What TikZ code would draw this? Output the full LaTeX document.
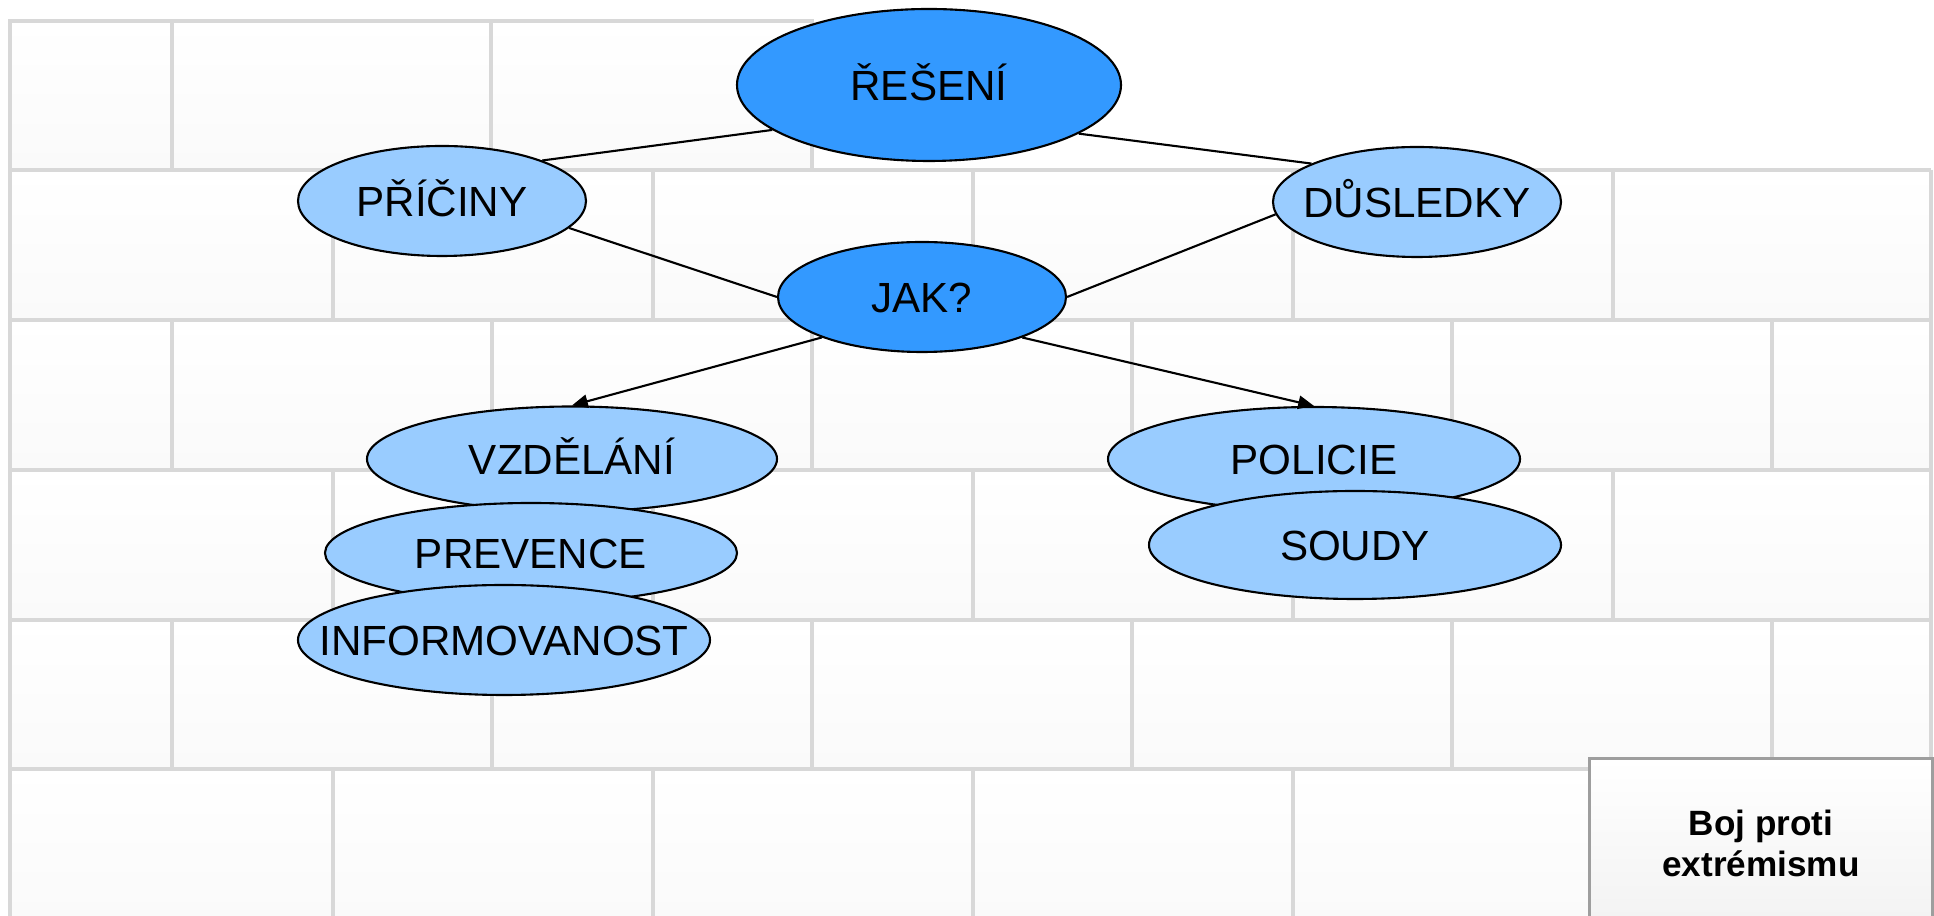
\documentclass[tikz,border=0pt]{standalone}
\usepackage{fontspec}
\setmainfont{Liberation Sans}
\usetikzlibrary{shapes.geometric,arrows.meta}
\definecolor{darkblue}{HTML}{3399FF}
\definecolor{lightblue}{HTML}{99CCFF}
\definecolor{mortar}{HTML}{D8D8D8}
\newcommand{\bubbletext}[1]{\makebox[0pt]{#1}}
\tikzset{
	bubble/.style={ellipse, draw=black, line width=0.6pt, inner sep=0pt, text height=8.6pt, text depth=0pt, font=\fontsize{12}{14}\selectfont},
	darkbubble/.style={bubble, fill=darkblue},
	lightbubble/.style={bubble, fill=lightblue},
	link/.style={line width=0.6pt},
	mortarline/.style={draw=mortar, line width=0.035cm},
}

\begin{document}
\begin{tikzpicture}[x=1cm, y=-1cm, >={Triangle[length=4.5pt,width=3.8pt]}]
			%%%%% WALL %%%%%
			
			\useasboundingbox[fill=white] (0,0) rectangle (19.34,9.16);
			\shade[top color=white, bottom color=black!2] (0.10,0.21) rectangle (8.12,1.70);
			\foreach \y in {1.70,3.20,4.70,6.20,7.69}
				\shade[top color=white, bottom color=black!2] (0.10,\y) rectangle (19.31,\y+1.5);
			
			\draw[mortarline] (0.10,9.16) -- (0.10,0.21) -- (8.12,0.21) -- (8.12,1.70);
			\draw[mortarline] (19.31,1.70) -- (19.31,9.16);
			\foreach \y in {1.70,3.20,4.70,6.20,7.69}
				\draw[mortarline] (0.10,\y) -- (19.31,\y);
			\foreach \x in {1.72,4.91}
				\draw[mortarline] (\x,0.21) -- (\x,1.70);
			\foreach \y in {3.20,6.20}
				\foreach \x in {1.72,4.92,8.12,11.32,14.52,17.72}
					\draw[mortarline] (\x,\y) -- (\x,\y+1.5);
			\foreach \y in {1.70,4.70,7.69}
				\foreach \x in {3.33,6.53,9.73,12.93,16.13}
					\draw[mortarline] (\x,\y) -- (\x,\y+1.5);
			
			%%%%% BUBBLES %%%%%
			
			\node[darkbubble, minimum width=3.84cm, minimum height=1.52cm] (reseni) at (9.29,0.85) {\bubbletext{ŘEŠENÍ}};
			\node[lightbubble, minimum width=2.88cm, minimum height=1.10cm] (priciny) at (4.42,2.01) {\bubbletext{PŘÍČINY}};
			\node[lightbubble, minimum width=2.88cm, minimum height=1.10cm] (dusledky) at (14.17,2.02) {\bubbletext{DŮSLEDKY}};
			\node[darkbubble, minimum width=2.88cm, minimum height=1.10cm] (jak) at (9.22,2.97) {\bubbletext{JAK?}};
			
			\node[lightbubble, minimum width=4.10cm, minimum height=1.05cm] (vzdelani) at (5.72,4.59) {\bubbletext{VZDĚLÁNÍ}};
			\node[lightbubble, minimum width=4.12cm, minimum height=1.00cm] (prevence) at (5.31,5.53) {\bubbletext{PREVENCE}};
			\node[lightbubble, minimum width=4.12cm, minimum height=1.10cm] (informovanost) at (5.04,6.40) {\bubbletext{INFORMOVANOST}};
			
			\node[lightbubble, minimum width=4.12cm, minimum height=1.04cm] (policie) at (13.14,4.59) {\bubbletext{POLICIE}};
			\node[lightbubble, minimum width=4.12cm, minimum height=1.08cm] (soudy) at (13.55,5.45) {\bubbletext{SOUDY}};
			
			%%%%% LINKS %%%%%
			
			\draw[link] (reseni.196) -- (priciny.22);
			\draw[link] (reseni.342) -- (dusledky.160);
			\draw[link] (priciny.348) -- (jak.west);
			\draw[link] (jak.east) -- (dusledky.185);
			\draw[link, ->] (jak.202) -- (vzdelani.north);
			\draw[link, ->] (jak.338) -- (policie.north);
			
			%%%%% TITLE %%%%%
			
			\node[draw=black!38, line width=0.85pt, top color=white, bottom color=black!5, anchor=north west, minimum width=3.43cm, minimum height=1.70cm, align=center, font=\bfseries\fontsize{10}{11.8}\selectfont] (boj) at (15.88,7.57) {Boj proti\\extrémismu};
			
		\end{tikzpicture}
\end{document}
